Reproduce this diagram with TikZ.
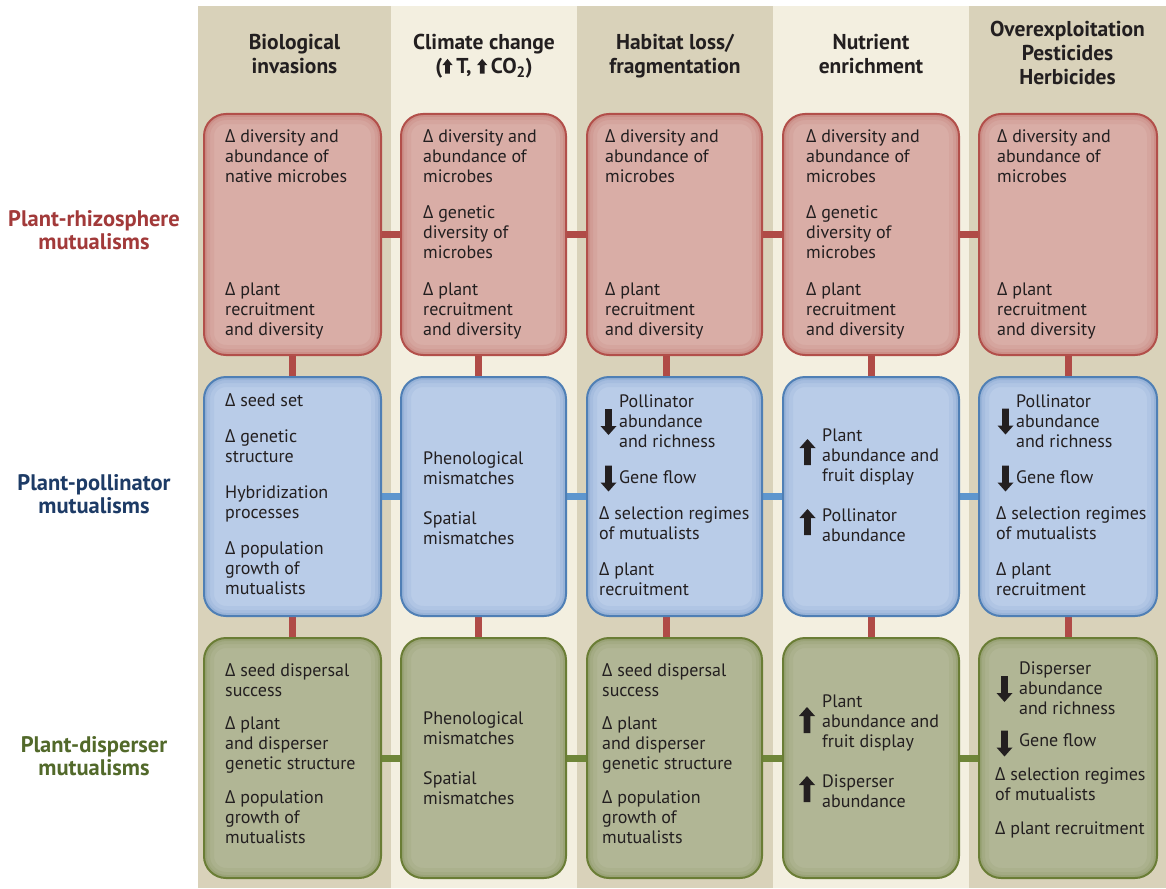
\documentclass[tikz,border=0pt]{standalone}
\usepackage{fontspec}
\setmainfont{PT Sans}
\newfontfamily\gkfont{Open Sans}
\usetikzlibrary{backgrounds}
\definecolor{coldark}{HTML}{D9D2BA}
\definecolor{collight}{HTML}{F3EFE0}
\definecolor{rfill}{HTML}{D9ADA6}
\definecolor{rline}{HTML}{B24F4A}
\definecolor{rconn}{HTML}{B04B47}
\definecolor{bfill}{HTML}{B9CCE8}
\definecolor{bline}{HTML}{4F7FB5}
\definecolor{bconn}{HTML}{5E96CE}
\definecolor{gfill}{HTML}{B1B695}
\definecolor{gline}{HTML}{6A7D35}
\definecolor{gconn}{HTML}{6F8639}
\definecolor{ink}{HTML}{231F20}
\definecolor{rlab}{HTML}{A23A3A}
\definecolor{blab}{HTML}{1D3B66}
\definecolor{glab}{HTML}{52692A}
\newcommand\dl{{\gkfont Δ}}
\newcommand\hup{\tikz[x=1pt,y=1pt,baseline=0pt]\fill[ink] (-2.4,0)--(2.4,0)--(2.4,8.5)--(5.2,8.5)--(0,14.8)--(-5.2,8.5)--(-2.4,8.5)--cycle;}
\newcommand\glow[1]{\foreach \w/\o in {20/0.08,12/0.1,6/0.16}{\draw[#1, line width=\w pt, opacity=\o, rounded corners=22pt] (path picture bounding box.south west) rectangle (path picture bounding box.north east);}}
\begin{document}
\begin{tikzpicture}[x=1pt,y=-1pt,
  every node/.style={inner sep=0pt, text=ink},
  hdr/.style={anchor=north, align=center, font=\fontsize{21.5}{24}\selectfont\bfseries},
  rowlab/.style={anchor=north, align=center, font=\fontsize{22.5}{23}\selectfont\bfseries},
  txt/.style={anchor=north west, align=left, font=\fontsize{18}{20}\selectfont},
  box/.style={rectangle, rounded corners=22pt, line width=2pt},
  redbox/.style={box, fill=rfill, draw=rline, path picture={\glow{rline}}},
  bluebox/.style={box, fill=bfill, draw=bline, path picture={\glow{bline}}},
  greenbox/.style={box, fill=gfill, draw=gline, path picture={\glow{gline}}},
  conn/.style={line width=7pt},
  darr/.pic={\fill[ink] (-3.3,0)--(3.3,0)--(3.3,17)--(8,17)--(0,26)--(-8,17)--(-3.3,17)--cycle;},
  uarr/.pic={\fill[ink] (-3.3,26)--(3.3,26)--(3.3,9)--(8,9)--(0,0)--(-8,9)--(-3.3,9)--cycle;}
]
\useasboundingbox (0,0) rectangle (1166,888);

% ---------- boxes ----------
\node[redbox, minimum width=177pt, minimum height=241pt] (r1c1) at (292.5,234.5) {};
\node[redbox, minimum width=165pt, minimum height=241pt] (r1c2) at (483.5,234.5) {};
\node[redbox, minimum width=175pt, minimum height=241pt] (r1c3) at (674.5,234.5) {};
\node[redbox, minimum width=176pt, minimum height=241pt] (r1c4) at (871,234.5) {};
\node[redbox, minimum width=178pt, minimum height=241pt] (r1c5) at (1068,234.5) {};

\node[bluebox, minimum width=177pt, minimum height=239pt] (r2c1) at (292.5,496.5) {};
\node[bluebox, minimum width=165pt, minimum height=239pt] (r2c2) at (483.5,496.5) {};
\node[bluebox, minimum width=175pt, minimum height=239pt] (r2c3) at (674.5,496.5) {};
\node[bluebox, minimum width=176pt, minimum height=239pt] (r2c4) at (871,496.5) {};
\node[bluebox, minimum width=178pt, minimum height=239pt] (r2c5) at (1068,496.5) {};

\node[greenbox, minimum width=177pt, minimum height=240pt] (r3c1) at (292.5,758) {};
\node[greenbox, minimum width=165pt, minimum height=240pt] (r3c2) at (483.5,758) {};
\node[greenbox, minimum width=175pt, minimum height=240pt] (r3c3) at (674.5,758) {};
\node[greenbox, minimum width=176pt, minimum height=240pt] (r3c4) at (871,758) {};
\node[greenbox, minimum width=178pt, minimum height=240pt] (r3c5) at (1068,758) {};

% ---------- headers ----------
\node[hdr] (h1) at (294.5,32.7) {\strut Biological\\invasions};
\node[hdr] (h2) at (484,32.7) {\strut Climate change\\(\hup\,T, \hup\,CO\textsubscript{2})};
\node[hdr] (h3) at (675,32.7) {\strut Habitat loss/\\fragmentation};
\node[hdr] (h4) at (871,32.7) {\strut Nutrient\\enrichment};
\node[hdr] (h5) at (1067.5,19.7) {\strut Overexploitation\\Pesticides\\Herbicides};

% ---------- row labels ----------
\node[rowlab, text=rlab] (l1) at (94,209.9) {\strut Plant-rhizosphere\\mutualisms};
\node[rowlab, text=blab] (l2) at (94,473.9) {\strut Plant-pollinator\\mutualisms};
\node[rowlab, text=glab] (l3) at (94,735.9) {\strut Plant-disperser\\mutualisms};

% ---------- row 1 texts ----------
\node[txt] (t11a) at (225,128.7) {\strut\dl{} diversity and\\abundance of\\native microbes};
\node[txt] (t11b) at (225,281.7) {\strut\dl{} plant\\recruitment\\and diversity};
\node[txt] (t12a) at (423,128.7) {\strut\dl{} diversity and\\abundance of\\microbes};
\node[txt] (t12b) at (423,204.7) {\strut\dl{} genetic\\diversity of\\microbes};
\node[txt] (t12c) at (423,281.7) {\strut\dl{} plant\\recruitment\\and diversity};
\node[txt] (t13a) at (605,128.7) {\strut\dl{} diversity and\\abundance of\\microbes};
\node[txt] (t13b) at (605,281.7) {\strut\dl{} plant\\recruitment\\and diversity};
\node[txt] (t14a) at (806,128.7) {\strut\dl{} diversity and\\abundance of\\microbes};
\node[txt] (t14b) at (806,204.7) {\strut\dl{} genetic\\diversity of\\microbes};
\node[txt] (t14c) at (806,281.7) {\strut\dl{} plant\\recruitment\\and diversity};
\node[txt] (t15a) at (997,128.7) {\strut\dl{} diversity and\\abundance of\\microbes};
\node[txt] (t15b) at (997,281.7) {\strut\dl{} plant\\recruitment\\and diversity};

% ---------- row 2 texts ----------
\node[txt] (t21a) at (225,392.7) {\strut\dl{} seed set};
\node[txt] (t21b) at (225,428.7) {\strut\dl{} genetic\\structure};
\node[txt] (t21c) at (225,484.7) {\strut Hybridization\\processes};
\node[txt] (t21d) at (225,540.7) {\strut\dl{} population\\growth of\\mutualists};
\node[txt] (t22a) at (423,450.7) {\strut Phenological\\mismatches};
\node[txt] (t22b) at (423,510.7) {\strut Spatial\\mismatches};
\node[txt] (t23a) at (619,393.7) {\strut Pollinator\\abundance\\and richness};
\node[txt] (t23b) at (619,469.7) {\strut Gene flow};
\node[txt] (t23c) at (599,505.7) {\strut\dl{} selection regimes\\of mutualists};
\node[txt] (t23d) at (599,561.7) {\strut\dl{} plant\\recruitment};
\node[txt] (t24a) at (822,427.7) {\strut Plant\\abundance and\\fruit display};
\node[txt] (t24b) at (822,507.7) {\strut Pollinator\\abundance};
\node[txt] (t25a) at (1016,393.7) {\strut Pollinator\\abundance\\and richness};
\node[txt] (t25b) at (1016,469.7) {\strut Gene flow};
\node[txt] (t25c) at (996,505.7) {\strut\dl{} selection regimes\\of mutualists};
\node[txt] (t25d) at (996,561.7) {\strut\dl{} plant\\recruitment};

% ---------- row 3 texts ----------
\node[txt] (t31a) at (225,662.7) {\strut\dl{} seed dispersal\\success};
\node[txt] (t31b) at (225,715.7) {\strut\dl{} plant\\and disperser\\genetic structure};
\node[txt] (t31c) at (225,789.7) {\strut\dl{} population\\growth of\\mutualists};
\node[txt] (t32a) at (423,710.7) {\strut Phenological\\mismatches};
\node[txt] (t32b) at (423,770.7) {\strut Spatial\\mismatches};
\node[txt] (t33a) at (602,662.7) {\strut\dl{} seed dispersal\\success};
\node[txt] (t33b) at (602,715.7) {\strut\dl{} plant\\and disperser\\genetic structure};
\node[txt] (t33c) at (602,789.7) {\strut\dl{} population\\growth of\\mutualists};
\node[txt] (t34a) at (822,693.7) {\strut Plant\\abundance and\\fruit display};
\node[txt] (t34b) at (822,773.7) {\strut Disperser\\abundance};
\node[txt] (t35a) at (1019,660.4) {\strut Disperser\\abundance\\and richness};
\node[txt] (t35b) at (1019,732.7) {\strut Gene flow};
\node[txt] (t35c) at (995,766.7) {\strut\dl{} selection regimes\\of mutualists};
\node[txt] (t35d) at (995,820.4) {\strut\dl{} plant recruitment};

% ---------- arrows ----------
\pic at (608.5,409) {darr};
\pic at (608.5,465.5) {darr};
\pic at (807.5,439) {uarr};
\pic at (807.5,509) {uarr};
\pic at (1005.5,408.5) {darr};
\pic at (1005.5,465.5) {darr};
\pic at (807,707) {uarr};
\pic at (807,776) {uarr};
\pic at (1004.5,676) {darr};
\pic at (1004.5,730.5) {darr};

% ---------- background and connectors ----------
\begin{scope}[on background layer]
  \fill[white] (0,0) rectangle (1166,888);
  \fill[coldark] (198,6) rectangle (391,888);
  \fill[collight] (391,6) rectangle (577,888);
  \fill[coldark] (577,6) rectangle (773,888);
  \fill[collight] (773,6) rectangle (969,888);
  \fill[coldark] (969,6) rectangle (1166,888);
  % horizontal
  \draw[conn, rconn] (r1c1) -- (r1c2);
  \draw[conn, rconn] (r1c2) -- (r1c3);
  \draw[conn, rconn] (r1c3) -- (r1c4);
  \draw[conn, rconn] (r1c4) -- (r1c5);
  \draw[conn, bconn] (r2c1) -- (r2c2);
  \draw[conn, bconn] (r2c2) -- (r2c3);
  \draw[conn, bconn] (r2c3) -- (r2c4);
  \draw[conn, bconn] (r2c4) -- (r2c5);
  \draw[conn, gconn] (r3c1) -- (r3c2);
  \draw[conn, gconn] (r3c2) -- (r3c3);
  \draw[conn, gconn] (r3c3) -- (r3c4);
  \draw[conn, gconn] (r3c4) -- (r3c5);
  % vertical
  \draw[conn, rconn] (r1c1) -- (r2c1);
  \draw[conn, rconn] (r2c1) -- (r3c1);
  \draw[conn, rconn] ([xshift=-5pt]r1c2.south) -- ([xshift=-5pt]r2c2.north);
  \draw[conn, rconn] ([xshift=-5pt]r2c2.south) -- ([xshift=-5pt]r3c2.north);
  \draw[conn, rconn] ([xshift=-8pt]r1c3.south) -- ([xshift=-8pt]r2c3.north);
  \draw[conn, rconn] ([xshift=-8pt]r2c3.south) -- ([xshift=-8pt]r3c3.north);
  \draw[conn, rconn] (r1c4) -- (r2c4);
  \draw[conn, rconn] (r2c4) -- (r3c4);
  \draw[conn, rconn] (r1c5) -- (r2c5);
  \draw[conn, rconn] (r2c5) -- (r3c5);
\end{scope}
\end{tikzpicture}
\end{document}
